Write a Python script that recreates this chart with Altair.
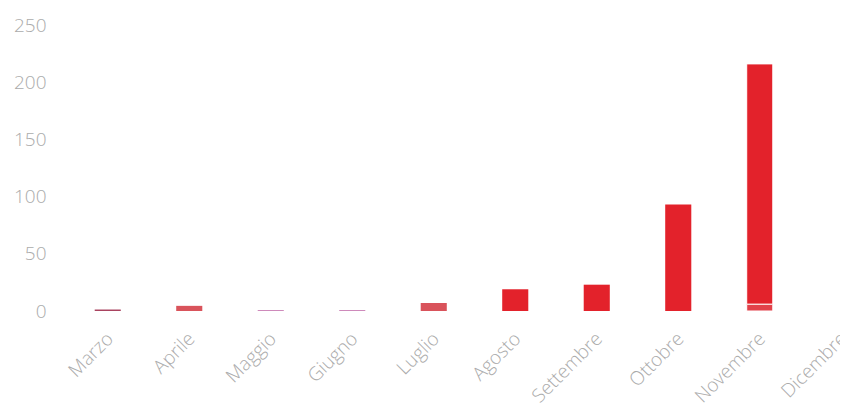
import altair as alt
import pandas as pd

mesi = ["Marzo", "Aprile", "Maggio", "Giugno", "Luglio", "Agosto",
        "Settembre", "Ottobre", "Novembre", "Dicembre"]

# stacked segments: (month, series, value)
seg_mese = ["Marzo", "Aprile", "Maggio", "Giugno", "Luglio", "Agosto",
            "Settembre", "Ottobre", "Novembre", "Novembre"]
seg_serie = ["S1", "S3", "S2", "S2", "S3", "S4", "S4", "S4", "S5", "S4"]
seg_valore = [1.3, 4.5, 0.6, 0.6, 7, 19, 23, 93, 6, 210]

serie = ["S1", "S2", "S3", "S4", "S5"]
colori = ["#a94360", "#b8559c", "#d9535b", "#e3222b", "#e2414a"]

y_ticks = [0, 50, 100, 150, 200, 250]

df = pd.DataFrame({"mese": seg_mese, "serie": seg_serie, "valore": seg_valore,
                   "ordine": list(range(len(seg_mese)))})

font = "Open Sans"
gray = "#ababab"

chart = alt.Chart(df).mark_bar(stroke="white").encode(
    x=alt.X("mese:N", sort=mesi,
            scale=alt.Scale(domain=mesi, range=[0, 815], paddingInner=0.68, paddingOuter=0.34),
            axis=alt.Axis(title=None, labelAngle=-45, labelAlign="right", labelBaseline="top",
                          labelPadding=18, labelOffset=-4, ticks=False, domain=False,
                          labelFont=font, labelFontSize=19, labelFontWeight=300,
                          labelColor=gray)),
    y=alt.Y("valore:Q", stack="zero",
            scale=alt.Scale(domain=[0, 250], nice=False),
            axis=alt.Axis(title=None, values=y_ticks, grid=False, ticks=False, domain=False,
                          labelPadding=21, labelFont=font, labelFontSize=19,
                          labelFontWeight=300, labelColor=gray)),
    color=alt.Color("serie:N", scale=alt.Scale(domain=serie, range=colori), legend=None),
    strokeWidth=alt.condition("datum.mese == 'Novembre'", alt.value(1), alt.value(0)),
    order=alt.Order("ordine:Q"),
).properties(
    width=773, height=286,
    autosize=alt.AutoSizeParams(type="none"),
    padding={"left": 59, "top": 17, "right": 0, "bottom": 99},
).configure_view(stroke=None)

chart.save("out.html", embed_options={"renderer": "svg", "actions": False})
